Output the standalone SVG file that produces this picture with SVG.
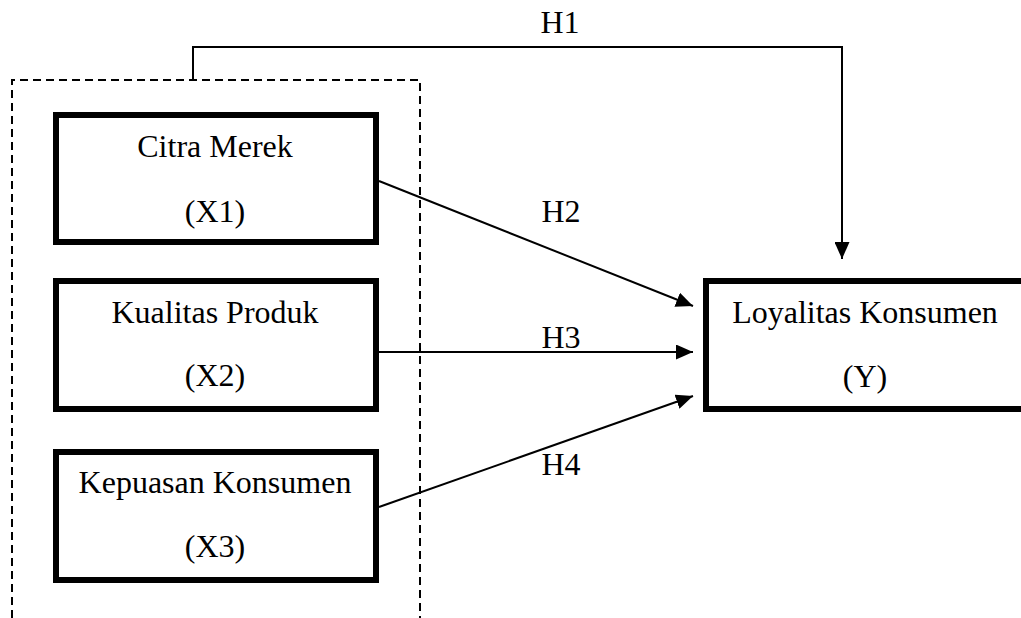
<svg xmlns="http://www.w3.org/2000/svg" width="1021" height="618" viewBox="0 0 1021 618">
<style>
.node{fill:#fff;stroke:#000;stroke-width:6}
.t{font-family:"Liberation Serif","Times New Roman",serif;font-size:32px;fill:#000;text-anchor:middle}
.c{fill:none;stroke:#000;stroke-width:2}
.d{fill:none;stroke:#000;stroke-width:2;stroke-dasharray:8 5}
</style>
<defs>
<marker id="ah" viewBox="0 0 17 15" refX="17" refY="7.5" markerWidth="17" markerHeight="15" markerUnits="userSpaceOnUse" orient="auto">
<path d="M0,0 L17,7.5 L0,15 Z" fill="#000"/>
</marker>
</defs>
<rect width="1021" height="618" fill="#fff"/>
<g id="group-box">
<path class="d" d="M12,618 L12,80 L420,80 L420,618"/>
</g>
<g id="connectors">
<path class="c" d="M193,80 L193,47 L842,47 L842,259" marker-end="url(#ah)"/>
<line class="c" x1="379" y1="181" x2="693" y2="306" marker-end="url(#ah)"/>
<line class="c" x1="379" y1="352" x2="693" y2="352" marker-end="url(#ah)"/>
<line class="c" x1="379" y1="507" x2="693" y2="396" marker-end="url(#ah)"/>
<text class="t" x="560" y="33">H1</text>
<text class="t" x="561" y="222">H2</text>
<text class="t" x="561" y="348">H3</text>
<text class="t" x="561" y="475">H4</text>
</g>
<g id="x1">
<rect class="node" x="56" y="115" width="320" height="127"/>
<text class="t" x="215" y="157">Citra Merek</text>
<text class="t" x="215" y="222">(X1)</text>
</g>
<g id="x2">
<rect class="node" x="56" y="281" width="320" height="128"/>
<text class="t" x="215" y="323">Kualitas Produk</text>
<text class="t" x="215" y="386">(X2)</text>
</g>
<g id="x3">
<rect class="node" x="56" y="452" width="320" height="128"/>
<text class="t" x="215" y="493">Kepuasan Konsumen</text>
<text class="t" x="215" y="557">(X3)</text>
</g>
<g id="y">
<rect class="node" x="706" y="281" width="320" height="128"/>
<text class="t" x="865" y="323">Loyalitas Konsumen</text>
<text class="t" x="865" y="387">(Y)</text>
</g>
</svg>
